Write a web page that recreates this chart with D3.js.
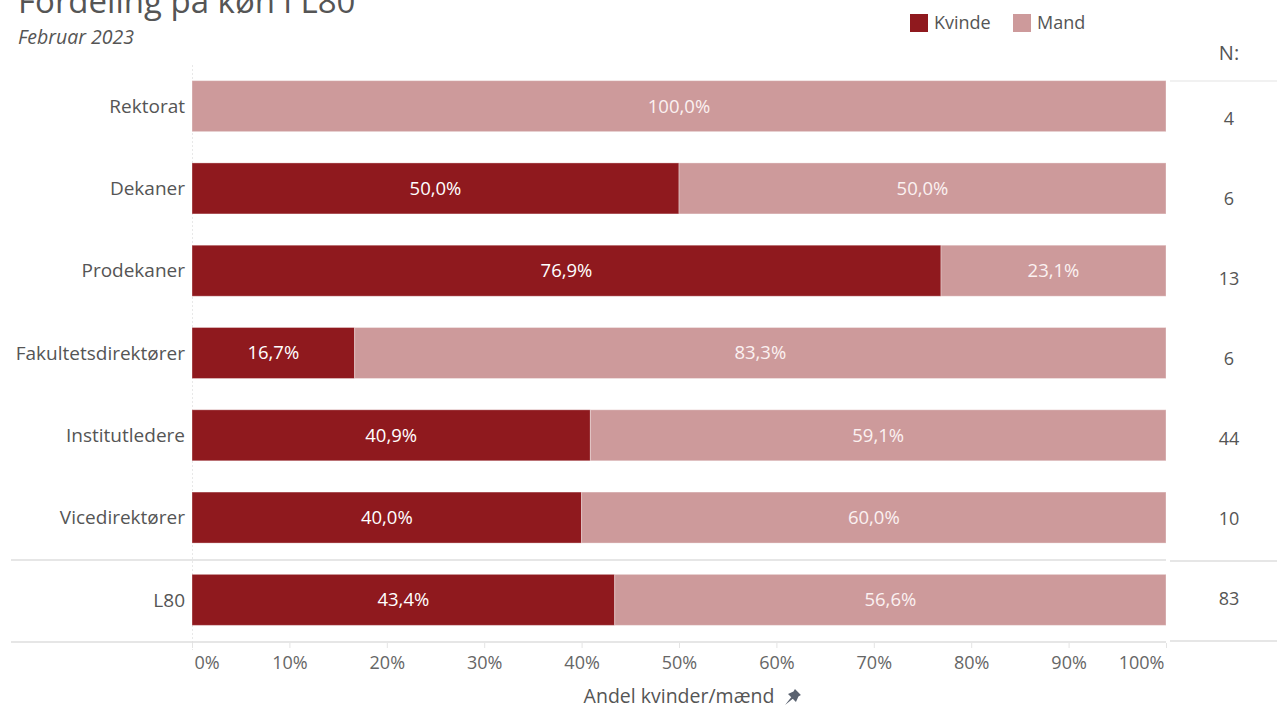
<!DOCTYPE html>
<html>
<head>
<meta charset="utf-8">
<script src="https://cdn.jsdelivr.net/npm/d3@7"></script>
<style>
  body { margin: 0; background: #fff; }
  svg { font-family: "Open Sans", sans-serif; display: block; }
</style>
</head>
<body>
<svg id="chart" width="1277" height="709"></svg>
<script>
// data
const categories = ["Rektorat", "Dekaner", "Prodekaner", "Fakultetsdirektører", "Institutledere", "Vicedirektører", "L80"];
const kvinde = [0, 0.5, 0.769, 0.167, 0.409, 0.4, 0.434];
const mand = [1, 0.5, 0.231, 0.833, 0.591, 0.6, 0.566];
const nValues = [4, 6, 13, 6, 44, 10, 83];
const tickValues = [0, 0.1, 0.2, 0.3, 0.4, 0.5, 0.6, 0.7, 0.8, 0.9, 1];
const seriesNames = ["Kvinde", "Mand"];
const seriesColors = ["#8f191e", "#cd9a9b"];

const width = 1277, height = 709;
const svg = d3.select("#chart");

const locale = d3.formatLocale({decimal: ",", thousands: ".", grouping: [3], currency: ["", " kr"]});
const fmtPct = locale.format(".1%");
const fmtTick = locale.format(".0%");

const x = d3.scaleLinear().domain([0, 1]).range([192, 1166]);
const y = d3.scaleBand()
  .domain(categories)
  .range([65, 641])
  .paddingInner(0.38)
  .paddingOuter(0.19);
const yN = d3.scalePoint().domain(categories).range([119, 599]);
const color = d3.scaleOrdinal().domain(seriesNames).range(seriesColors);

const rows = categories.map((c, i) => ({cat: c, kvinde: kvinde[i], mand: mand[i], n: nValues[i]}));
const stacked = d3.stack().keys(["kvinde", "mand"])(rows);

// grid / separators
const grid = svg.append("g").attr("stroke", "#dedede").attr("stroke-width", 1.5);
grid.append("line").attr("x1", x(0) + 0.5).attr("x2", x(0) + 0.5).attr("y1", 65).attr("y2", 650)
  .attr("stroke", "#e8e8e8").attr("stroke-dasharray", "2,2").attr("stroke-width", 1);
grid.append("line").attr("x1", 11).attr("x2", x(1)).attr("y1", 560).attr("y2", 560);
grid.append("line").attr("x1", 11).attr("x2", x(1)).attr("y1", 642).attr("y2", 642);
grid.append("line").attr("x1", 1170).attr("x2", width).attr("y1", 81).attr("y2", 81).attr("stroke", "#ececec");
grid.append("line").attr("x1", 1170).attr("x2", width).attr("y1", 561).attr("y2", 561);
grid.append("line").attr("x1", 1170).attr("x2", width).attr("y1", 641).attr("y2", 641);

// bars
const layers = svg.append("g").selectAll("g")
  .data(stacked)
  .join("g")
  .attr("fill", (d, i) => color(seriesNames[i]));

layers.selectAll("rect")
  .data(d => d)
  .join("rect")
  .attr("x", d => x(d[0]))
  .attr("y", d => y(d.data.cat))
  .attr("width", d => x(d[1]) - x(d[0]))
  .attr("height", y.bandwidth())
  .attr("stroke", "rgba(255,255,255,0.35)")
  .attr("stroke-width", 1);

layers.selectAll("text")
  .data(d => d.filter(s => s[1] - s[0] > 0))
  .join("text")
  .attr("x", d => (x(d[0]) + x(d[1])) / 2)
  .attr("y", d => y(d.data.cat) + y.bandwidth() / 2)
  .attr("dy", "0.35em")
  .attr("text-anchor", "middle")
  .attr("font-size", 18.5)
  .attr("fill", function() { return d3.select(this.parentNode).datum().key === "kvinde" ? "#ffffff" : "#fbf1f1"; })
  .text(d => fmtPct(d[1] - d[0]));

// category labels
svg.append("g").selectAll("text")
  .data(categories)
  .join("text")
  .attr("x", 185)
  .attr("y", d => y(d) + y.bandwidth() / 2)
  .attr("dy", "0.35em")
  .attr("text-anchor", "end")
  .attr("font-size", 19)
  .attr("fill", "#555")
  .text(d => d);

// N column
svg.append("text")
  .attr("x", 1229).attr("y", 60)
  .attr("text-anchor", "middle")
  .attr("font-size", 20)
  .attr("fill", "#555")
  .text("N:");

svg.append("g").selectAll("text")
  .data(rows)
  .join("text")
  .attr("x", 1229)
  .attr("y", d => yN(d.cat))
  .attr("dy", "0.35em")
  .attr("text-anchor", "middle")
  .attr("font-size", 18)
  .attr("fill", "#555")
  .text(d => d.n);

// x axis
const xAxis = svg.append("g")
  .attr("transform", "translate(0,643)")
  .call(d3.axisBottom(x).tickValues(tickValues).tickFormat(fmtTick).tickSize(5).tickPadding(8));
xAxis.select(".domain").remove();
xAxis.selectAll(".tick line").attr("stroke", "#e4e4e4");
xAxis.selectAll(".tick text")
  .attr("font-family", "Open Sans, sans-serif")
  .attr("font-size", 18)
  .attr("fill", "#666")
  .attr("text-anchor", d => d === 0 ? "start" : d === 1 ? "end" : "middle")
  .attr("dx", d => d === 0 ? 2 : d === 1 ? -2 : 0);

// axis title + pin
svg.append("text")
  .attr("x", 679).attr("y", 703)
  .attr("text-anchor", "middle")
  .attr("font-size", 19.5)
  .attr("fill", "#555")
  .text("Andel kvinder/mænd");
svg.append("path")
  .attr("transform", "translate(791,699) rotate(45) scale(1.4)")
  .attr("d", "M-3,-7 L3,-7 L2.5,-5 L4,-1 L-4,-1 L-2.5,-5 Z M-0.8,-1 L0.8,-1 L0,6 Z")
  .attr("fill", "#5a6270");

// title
svg.append("text")
  .attr("x", 18).attr("y", 13)
  .attr("font-size", 33)
  .attr("fill", "#555")
  .text("Fordeling på køn i L80");
svg.append("text")
  .attr("x", 18).attr("y", 44)
  .attr("font-size", 19.5)
  .attr("font-style", "italic")
  .attr("fill", "#555")
  .text("Februar 2023");

// legend
const legendX = [910, 1013];
const legend = svg.append("g").selectAll("g")
  .data(seriesNames)
  .join("g")
  .attr("transform", (d, i) => `translate(${legendX[i]},14)`);
legend.append("rect").attr("width", 18).attr("height", 18).attr("fill", d => color(d));
legend.append("text").attr("x", 24).attr("y", 9).attr("dy", "0.35em")
  .attr("font-size", 18).attr("fill", "#555").text(d => d);
</script>
</body>
</html>
